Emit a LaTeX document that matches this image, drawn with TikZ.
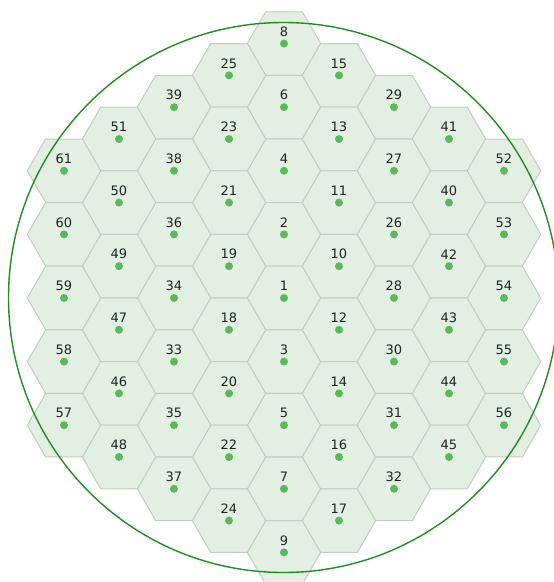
\documentclass[tikz,border=0pt]{standalone}
\usepackage{fontspec}
\setmainfont{DejaVu Sans}
\usetikzlibrary{shapes.geometric}

\definecolor{cellfill}{HTML}{E4EFE3}
\definecolor{celledge}{HTML}{C3CCC2}
\definecolor{dotgreen}{HTML}{5CB85C}
\definecolor{ringgreen}{HTML}{228B22}
\definecolor{numgray}{HTML}{222222}

\tikzset{
  cell/.style={regular polygon, regular polygon sides=6, minimum size=73.4pt,
    inner sep=0pt, outer sep=0pt, fill=cellfill, draw=celledge, line width=1pt},
  dot/.style={circle, fill=dotgreen, minimum size=8pt, inner sep=0pt},
  num/.style={font=\fontsize{13}{15}\selectfont, text=numgray, inner sep=0pt},
}

\begin{document}
\begin{tikzpicture}[x=1pt, y=1pt]
    \useasboundingbox (-284,-284) rectangle (270,298);
    \clip (-284,-284) rectangle (270,298);

    % cells: number / column / half-row
    \foreach \n/\c/\k in {8/0/-8, 6/0/-6, 4/0/-4, 2/0/-2, 1/0/0, 3/0/2, 5/0/4, 7/0/6, 9/0/8,
        15/1/-7, 13/1/-5, 11/1/-3, 10/1/-1, 12/1/1, 14/1/3, 16/1/5, 17/1/7,
        25/-1/-7, 23/-1/-5, 21/-1/-3, 19/-1/-1, 18/-1/1, 20/-1/3, 22/-1/5, 24/-1/7,
        29/2/-6, 27/2/-4, 26/2/-2, 28/2/0, 30/2/2, 31/2/4, 32/2/6,
        39/-2/-6, 38/-2/-4, 36/-2/-2, 34/-2/0, 33/-2/2, 35/-2/4, 37/-2/6,
        41/3/-5, 40/3/-3, 42/3/-1, 43/3/1, 44/3/3, 45/3/5,
        51/-3/-5, 50/-3/-3, 49/-3/-1, 47/-3/1, 46/-3/3, 48/-3/5,
        52/4/-4, 53/4/-2, 54/4/0, 55/4/2, 56/4/4,
        61/-4/-4, 60/-4/-2, 59/-4/0, 58/-4/2, 57/-4/4} {
        \node[cell] (h\n) at ({\c*55},{-\k*31.8}) {};
        \node[dot] (d\n) at (h\n.center) {};
        \node[num] (t\n) at ([yshift=12pt]h\n.center) {\n};
    }

    \node[circle, draw=ringgreen, line width=1.4pt, minimum size=550pt, inner sep=0pt]
        (ring) at ([xshift=-0.5pt, yshift=0.5pt]h1.center) {};
\end{tikzpicture}
\end{document}
